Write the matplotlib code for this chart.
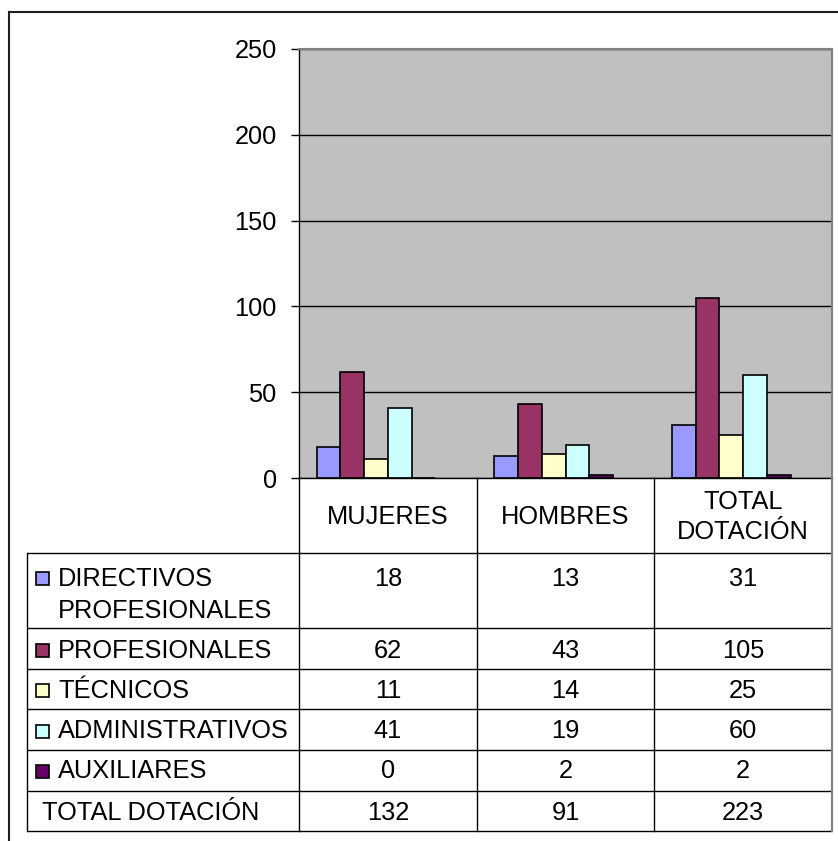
import numpy as np
import matplotlib.pyplot as plt
from matplotlib.patches import Rectangle
from matplotlib.lines import Line2D

plt.rcParams['font.family'] = ['Liberation Sans', 'DejaVu Sans']

# datos
categorias = ['MUJERES', 'HOMBRES', 'TOTAL\nDOTACIÓN']
series = ['DIRECTIVOS\nPROFESIONALES', 'PROFESIONALES', 'TÉCNICOS', 'ADMINISTRATIVOS', 'AUXILIARES']
directivos = [18, 13, 31]
profesionales = [62, 43, 105]
tecnicos = [11, 14, 25]
administrativos = [41, 19, 60]
auxiliares = [0, 2, 2]
total_dotacion = [132, 91, 223]
colores = ['#9999FF', '#993366', '#FFFFCC', '#CCFFFF', '#660066']

valores = [directivos, profesionales, tecnicos, administrativos, auxiliares]

W, H = 838, 841
fig = plt.figure(figsize=(W / 100, H / 100), dpi=100)
FS = 18.3

# marco exterior
fig.add_artist(Line2D([9 / W, 1], [1 - 12 / H, 1 - 12 / H], color='#202020', lw=1.5))
fig.add_artist(Line2D([9 / W, 9 / W], [1 - 12 / H, 0], color='#202020', lw=1.5))

# grafico de barras
x0, x1, ytop, ybot = 299, 832, 49, 478
ax = fig.add_axes([x0 / W, 1 - ybot / H, (x1 - x0) / W, (ybot - ytop) / H])
ax.set_facecolor('#C0C0C0')
ax.set_xlim(-0.5, 2.5)
ax.set_ylim(0, 250)
x = np.arange(len(categorias))
w = 1 / 7.5  # 6 series, gap 150%
for i, (vals, c) in enumerate(zip(valores, colores)):
    ax.bar(x + (i - 2.5) * w, vals, width=w, color=c, edgecolor='black', linewidth=1.2, zorder=3)
ax.set_yticks(np.arange(0, 251, 50))
ax.tick_params(axis='y', direction='out', length=6, width=1, pad=10, labelsize=FS)
ax.set_xticks([])
ax.set_axisbelow(True)
ax.yaxis.grid(True, color='black', lw=1)
for s in ['top', 'right']:
    ax.spines[s].set_color('#808080')
    ax.spines[s].set_linewidth(1.5)
for s in ['left', 'bottom']:
    ax.spines[s].set_color('black')
    ax.spines[s].set_linewidth(1)
ax.spines['bottom'].set_zorder(4)

# tabla de datos
tleft, tbot = 27, 831
cat_px = (x1 - x0) / 3
tab = fig.add_axes([tleft / W, 1 - tbot / H, (x1 - tleft) / W, (tbot - ybot) / H])
xl = -0.5 - (x0 - tleft) / cat_px
tab.set_xlim(xl, 2.5)
tab.set_ylim(tbot - ybot, 0)
tab.axis('off')


def px(p):
    return -0.5 + (p - x0) / cat_px


bordes = [75, 150, 191, 231, 272, 313, 353]
for b in bordes:
    tab.plot([xl, 2.5], [b, b], color='black', lw=1, solid_capstyle='butt', clip_on=False)
tab.plot([xl, xl], [75, 353], color='black', lw=1, clip_on=False)
for v in [-0.5, 0.5, 1.5]:
    tab.plot([v, v], [0, 353], color='black', lw=1, clip_on=False)
tab.plot([2.5, 2.5], [0, 353], color='#808080', lw=1.5, clip_on=False)

# encabezados
for i, cat in enumerate(categorias):
    tab.text(i, 39, cat, ha='center', va='center', fontsize=FS, linespacing=1.3)

# filas
centros = [99, 171, 211, 252, 292, 333]
for r, nombre in enumerate(series):
    base = centros[r] + 8.5
    tab.add_patch(Rectangle((px(36), base - 14), 13 / cat_px, 13, facecolor=colores[r],
                            edgecolor='black', lw=1.2, clip_on=False))
    for k, linea in enumerate(nombre.split('\n')):
        tab.text(px(58), base + 32 * k, linea, ha='left', va='baseline', fontsize=FS)
    for j in range(3):
        tab.text(j, base, str(valores[r][j]), ha='center', va='baseline', fontsize=FS)

base = centros[5] + 8.5
tab.text(px(42), base, 'TOTAL DOTACIÓN', ha='left', va='baseline', fontsize=FS)
for j in range(3):
    tab.text(j, base, str(total_dotacion[j]), ha='center', va='baseline', fontsize=FS)

fig.savefig('out.png', dpi=100)
